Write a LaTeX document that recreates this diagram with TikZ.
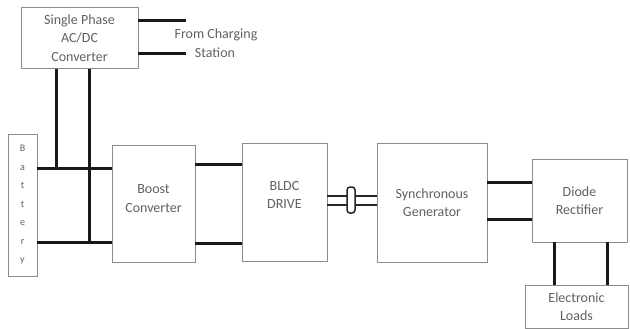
\documentclass[tikz,border=0pt]{standalone}
\usepackage{fontspec}
\setmainfont{Carlito}
\begin{document}
\begin{tikzpicture}[x=1pt,y=-1pt,
  blk/.style={draw=black!45,line width=0.8pt,fill=white,inner sep=0pt,align=center,text=black!62,font=\fontsize{14}{18.5}\selectfont},
  bus/.style={line width=3pt,black!90},
  shaft/.style={line width=2pt,black!85},
  lbl/.style={text=black!62,font=\fontsize{14}{18.5}\selectfont,inner sep=0pt}]
\useasboundingbox (0,0) rectangle (630,329);
\node[blk,minimum width=117pt,minimum height=61pt] (acdc) at (79.5,38) {Single Phase\\AC/DC\\Converter};
\node[blk,minimum width=29pt,minimum height=142pt,font=\fontsize{10}{18.5}\selectfont] (batt) at (22.5,205) {B\\a\\t\\t\\e\\r\\y};
\node[blk,minimum width=83pt,minimum height=117pt,text depth=10pt] (boost) at (153.5,203.5) {Boost\\Converter};
\node[blk,minimum width=85pt,minimum height=118pt,text depth=14pt] (bldc) at (284.5,202) {BLDC\\DRIVE};
\node[blk,minimum width=110pt,minimum height=119pt] (sg) at (432,202.5) {Synchronous\\Generator};
\node[blk,minimum width=95pt,minimum height=83pt] (rect) at (579.5,200.5) {Diode\\Rectifier};
\node[blk,minimum width=103pt,minimum height=43pt] (loads) at (576.5,306.5) {Electronic\\Loads};
% charging station
\coordinate (cs1) at (186,21);
\coordinate (cs2) at (186,54);
\draw[bus] (acdc.east |- cs1) -- (cs1);
\draw[bus] (acdc.east |- cs2) -- (cs2);
\node[lbl] (fcs1) at (216,35) {From Charging};
\node[lbl] (fcs2) at (215,53) {Station};
% battery bus
\coordinate (bu) at (0,168);
\coordinate (bl) at (0,242);
\draw[bus] (batt.east |- bu) -- (boost.west |- bu);
\draw[bus] (batt.east |- bl) -- (boost.west |- bl);
\coordinate (v1) at (56,168);
\coordinate (v2) at (89,242);
\draw[bus] (acdc.south -| v1) -- (v1);
\draw[bus] (acdc.south -| v2) -- (v2);
% boost to bldc
\coordinate (b1) at (0,164);
\coordinate (b2) at (0,243);
\draw[bus] (boost.east |- b1) -- (bldc.west |- b1);
\draw[bus] (boost.east |- b2) -- (bldc.west |- b2);
% shaft
\coordinate (s1) at (0,196);
\coordinate (s2) at (0,205);
\draw[shaft] (bldc.east |- s1) -- (sg.west |- s1);
\draw[shaft] (bldc.east |- s2) -- (sg.west |- s2);
\node[draw=black!85,line width=1.5pt,fill=white,rounded corners=3pt,minimum width=8pt,minimum height=26pt,inner sep=0pt] (cpl) at (351,200) {};
% sg to rectifier
\coordinate (r1) at (0,182);
\coordinate (r2) at (0,219);
\draw[bus] (sg.east |- r1) -- (rect.west |- r1);
\draw[bus] (sg.east |- r2) -- (rect.west |- r2);
% rectifier to loads
\coordinate (l1) at (554,0);
\coordinate (l2) at (607,0);
\draw[bus] (rect.south -| l1) -- (loads.north -| l1);
\draw[bus] (rect.south -| l2) -- (loads.north -| l2);
\end{tikzpicture}
\end{document}
